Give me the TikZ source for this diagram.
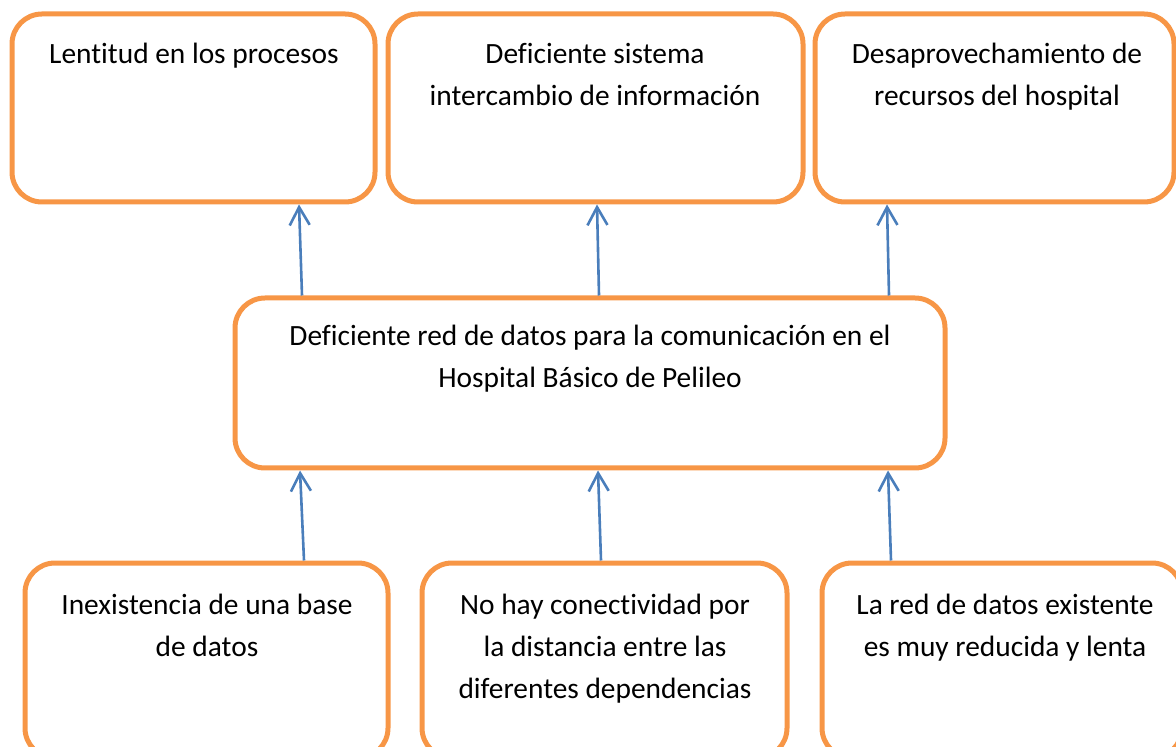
\documentclass[tikz,border=0pt]{standalone}
\usepackage{fontspec}
\setmainfont{Carlito}[Ligatures=NoCommon]
\usetikzlibrary{arrows.meta}
\definecolor{boxorange}{HTML}{F79646}
\definecolor{arrowblue}{HTML}{4A7EBB}
\tikzset{
  box/.style={draw=boxorange, line width=2.5pt, rounded corners=15pt, inner sep=0pt},
  txt/.style={align=center, inner sep=0pt, font=\fontsize{14.7}{21}\selectfont, anchor=base},
  arr/.style={draw=arrowblue, line width=1.3pt, -{Straight Barb[length=9pt,width=10pt,line width=1.3pt]}}
}
\begin{document}
\begin{tikzpicture}[x=0.5pt,y=-0.5pt]
\useasboundingbox (0,0) rectangle (1176,747);
\clip (0,0) rectangle (1176,747);
% top row
\node[box, minimum width=181.5pt, minimum height=94pt] (t1) at (193.5,108) {};
\node[box, minimum width=207.5pt, minimum height=94pt] (t2) at (595.5,108) {};
\node[box, minimum width=179.5pt, minimum height=94pt] (t3) at (994.5,108) {};
% middle
\node[box, minimum width=355pt, minimum height=85pt] (m) at (590,383) {};
% bottom row
\node[box, minimum width=181.5pt, minimum height=97.5pt] (b1) at (206.5,660.5) {};
\node[box, minimum width=182.5pt, minimum height=97.5pt] (b2) at (604.5,660.5) {};
\node[box, minimum width=180pt, minimum height=97.5pt] (b3) at (1002,660.5) {};
% texts (base anchor = baseline of the last line)
\node[txt] (t1x) at (194,64) {Lentitud en los procesos};
\node[txt] (t2x) at (595,106) {Deficiente sistema\\intercambio de información};
\node[txt] (t3x) at (997,106) {Desaprovechamiento de\\recursos del hospital};
\node[txt] (mx) at (590,388) {Deficiente red de datos para la comunicación en el\\Hospital Básico de Pelileo};
\node[txt] (b1x) at (207,656) {Inexistencia de una base\\de datos};
\node[txt] (b2x) at (605,698) {No hay conectividad por\\la distancia entre las\\diferentes dependencias};
\node[txt] (b3x) at (1005,656) {La red de datos existente\\es muy reducida y lenta};
% arrows
\draw[arr] ([shift={(97.5,0)}]b1.north) -- ([shift={(-290,0)}]m.south);
\draw[arr] ([shift={(-3.5,0)}]b2.north) -- ([shift={(8,0)}]m.south);
\draw[arr] ([shift={(-111,0)}]b3.north) -- ([shift={(298,0)}]m.south);
\draw[arr] ([shift={(-288,0)}]m.north) -- ([shift={(105.5,0)}]t1.south);
\draw[arr] ([shift={(9,0)}]m.north) -- ([shift={(1.5,0)}]t2.south);
\draw[arr] ([shift={(299,0)}]m.north) -- ([shift={(-107.5,0)}]t3.south);
\end{tikzpicture}
\end{document}
